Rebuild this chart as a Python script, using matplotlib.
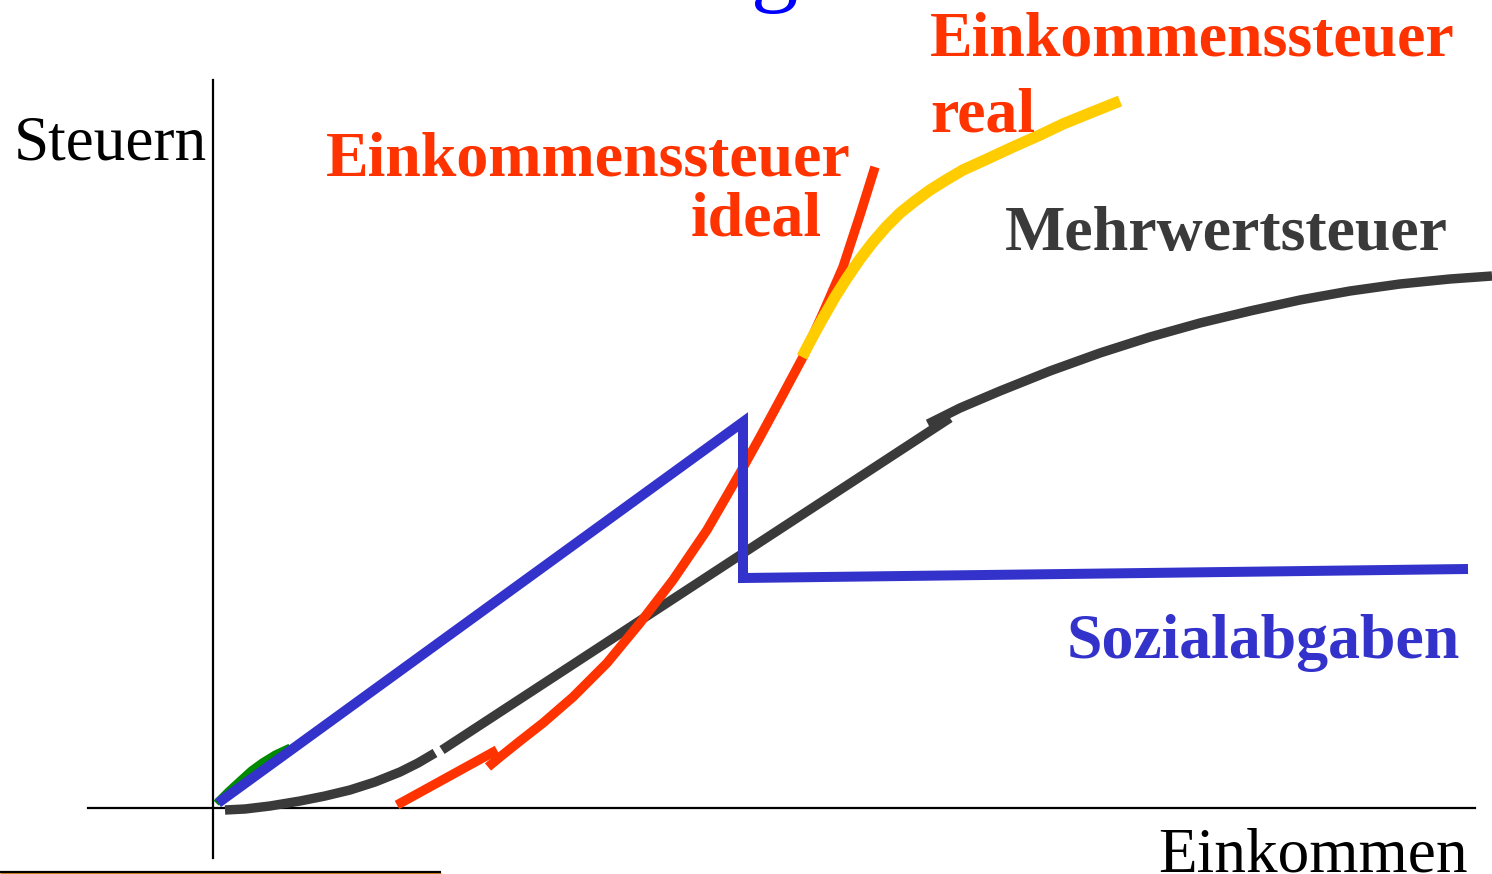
import matplotlib.pyplot as plt

# -----------------------------
# Curves (x = income, y = tax, origin at the axis crossing)
# -----------------------------
sozial_x = [5, 530, 530, 1255]
sozial_y = [5, 386, 230, 239]

green_x = [3, 15, 27, 38, 49, 62, 77]
green_y = [5, 17, 28, 38, 46, 54, 61]

mwst1_x = [12, 32, 57, 87, 112, 137, 162, 187, 205, 222]
mwst1_y = [-2, -1, 2, 7, 12, 18, 26, 36, 45, 55]
mwst2_x = [229, 737]
mwst2_y = [58, 390]
mwst3_x = [715, 747, 787, 837, 887, 937, 987, 1037, 1087, 1137, 1187, 1237, 1279]
mwst3_y = [384, 400, 417, 437, 455, 471, 485, 497, 508, 517, 524, 529, 532]

ideal1_x = [184, 284]
ideal1_y = [3, 58]
ideal2_x = [275, 287, 307, 330, 360, 394, 427, 460, 494, 527, 547, 567, 590,
            610, 630, 647, 662]
ideal2_y = [41, 51, 67, 85, 111, 145, 185, 228, 278, 335, 371, 408, 451,
            495, 541, 593, 641]

real_x = [589, 599, 610, 622, 634, 647, 660, 673, 687, 702, 717, 733, 750,
          772, 800, 827, 850, 877, 907]
real_y = [451, 470, 490, 511, 530, 549, 566, 581, 595, 607, 618, 628, 638,
          648, 661, 673, 684, 695, 707]

fig = plt.figure(figsize=(14.92, 8.74), dpi=100)
ax = fig.add_axes([0, 0, 1, 1])
ax.set_xlim(-213, 1279)
ax.set_ylim(-66, 808)
ax.axis('off')

# axes drawn by hand
ax.plot([0, 0], [-50, 728], color='black', lw=1.6)
ax.plot([-125, 1262], [0, 0], color='black', lw=1.6)

# bottom rule (cut off)
ax.plot([-213, 228], [-65.5, -65.5], color='#e08a20', lw=2.5, solid_capstyle='butt')
ax.plot([-213, 228], [-63.5, -63.5], color='black', lw=1.6, solid_capstyle='butt')

ax.plot(green_x, green_y, color='#008a00', lw=5, solid_capstyle='butt')
ax.plot(mwst1_x, mwst1_y, color='#3a3a3a', lw=6.8, solid_capstyle='butt')
ax.plot(mwst2_x, mwst2_y, color='#3a3a3a', lw=6.8, solid_capstyle='butt')
ax.plot(mwst3_x, mwst3_y, color='#3a3a3a', lw=6.8, solid_capstyle='butt')
ax.plot(ideal1_x, ideal1_y, color='#ff3300', lw=6.8, solid_capstyle='butt')
ax.plot(ideal2_x, ideal2_y, color='#ff3300', lw=6.8, solid_capstyle='butt')
ax.plot(real_x, real_y, color='#ffcc00', lw=8.2, solid_capstyle='butt')
ax.plot(sozial_x, sozial_y, color='#3333cc', lw=7.2, solid_capstyle='butt',
        solid_joinstyle='miter')

serif = 'Liberation Serif'
ax.text(-199, 648, 'Steuern', fontsize=45.5, family=serif, ha='left', va='baseline')
ax.text(945, -64, 'Einkommen', fontsize=45.5, family=serif, ha='left', va='baseline')
ax.text(113, 632, 'Einkommenssteuer', fontsize=46, family=serif, weight='bold',
        color='#ff3300', ha='left', va='baseline')
ax.text(609, 572, 'ideal', fontsize=46, family=serif, weight='bold',
        color='#ff3300', ha='right', va='baseline')
ax.text(717, 753, 'Einkommenssteuer', fontsize=46, family=serif, weight='bold',
        color='#ff3300', ha='left', va='baseline')
ax.text(717, 677, 'real', fontsize=46, family=serif, weight='bold',
        color='#ff3300', ha='left', va='baseline')
ax.text(792, 558, 'Mehrwertsteuer', fontsize=46, family=serif, weight='bold',
        color='#3a3a3a', ha='left', va='baseline')
ax.text(854, 150, 'Sozialabgaben', fontsize=46, family=serif, weight='bold',
        color='#3333cc', ha='left', va='baseline')
# title above the frame, only its descender shows
ax.text(562, 814, 'g', fontsize=68, family=serif, color='#0000ff',
        ha='center', va='baseline')

fig.savefig('out.png', dpi=100)
